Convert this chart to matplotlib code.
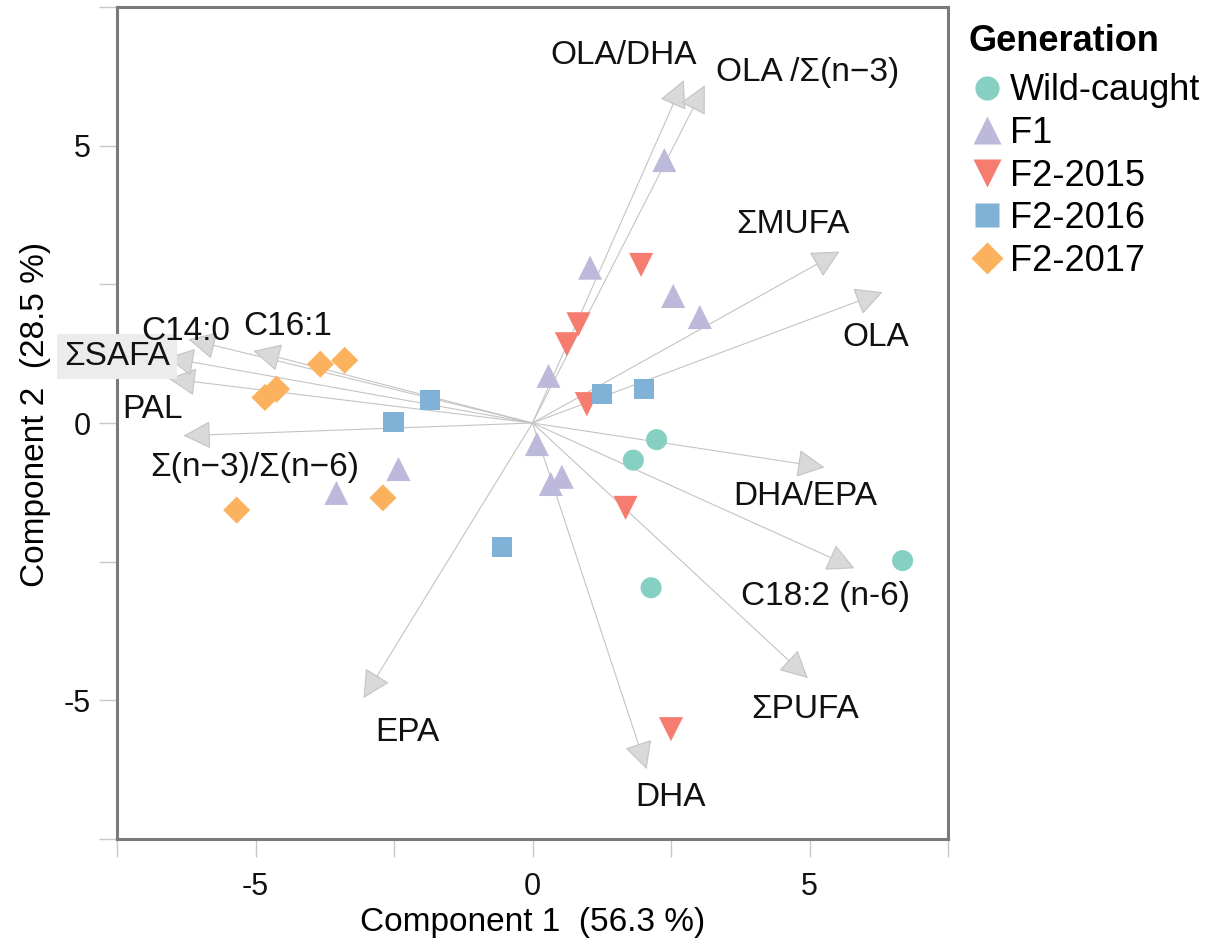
import numpy as np
import matplotlib
matplotlib.use('Agg')
import matplotlib.pyplot as plt
from matplotlib import font_manager
from matplotlib.lines import Line2D

# --- scores per generation (Component 1, Component 2) ---
wild_x  = [2.24, 1.82, 6.68, 2.14]
wild_y  = [-0.30, -0.67, -2.48, -2.97]
f1_x    = [2.38, 1.04, 2.54, 3.02, 0.29, 0.08, 0.53, 0.33, -2.42, -3.54]
f1_y    = [4.74, 2.80, 2.29, 1.91, 0.85, -0.38, -0.97, -1.10, -0.83, -1.26]
f15_x   = [1.96, 0.83, 0.62, 0.98, 1.68, 2.50]
f15_y   = [2.85, 1.78, 1.42, 0.34, -1.53, -5.52]
f16_x   = [1.25, 2.02, -1.85, -2.51, -0.55]
f16_y   = [0.52, 0.61, 0.42, 0.02, -2.23]
f17_x   = [-3.83, -3.39, -4.62, -4.83, -2.70, -5.34]
f17_y   = [1.06, 1.13, 0.61, 0.46, -1.35, -1.57]

groups  = ['Wild-caught', 'F1', 'F2-2015', 'F2-2016', 'F2-2017']

# --- loading vectors (arrow tips) ---
load_names = ['OLA/DHA', 'OLA /\u03a3(n\u22123)', '\u03a3MUFA', 'OLA', 'DHA/EPA',
              'C18:2 (n-6)', '\u03a3PUFA', 'DHA', 'EPA', '\u03a3(n\u22123)/\u03a3(n\u22126)',
              'PAL', '\u03a3SAFA', 'C14:0', 'C16:1']
load_x = [2.73, 3.11, 5.54, 6.32, 5.27, 5.81, 4.97, 2.06, -3.05, -6.30, -6.57, -6.60, -6.21, -5.04]
load_y = [6.18, 6.09, 3.09, 2.36, -0.80, -2.62, -4.60, -6.24, -4.96, -0.23, 0.80, 1.18, 1.51, 1.30]

# where each loading name is written (label centres)
label_pos = [(1.64, 6.62), (4.97, 6.32), (4.70, 3.57), (6.19, 1.54), (4.93, -1.33),
             (5.29, -3.12), (4.93, -5.17), (2.49, -6.75), (-2.26, -5.58), (-5.01, -0.81),
             (-6.86, 0.25), (-7.50, 1.20), (-6.26, 1.65), (-4.42, 1.74)]

tick_pos    = [-7.5, -5, -2.5, 0, 2.5, 5, 7.5]
tick_labels = ['', '-5', '', '0', '', '5', '']

colors  = ['#86d0c3', '#bdb9db', '#f57c6e', '#7fb2d6', '#fbb15e']
markers = ['o', '^', 'v', 's', 'D']
sizes   = [230, 300, 300, 210, 190]

names = {f.name for f in font_manager.fontManager.ttflist}
base_font = 'Liberation Sans' if 'Liberation Sans' in names else 'DejaVu Sans'
plt.rcParams['font.family'] = [base_font, 'DejaVu Sans']

fig = plt.figure(figsize=(12.15, 9.4), dpi=100)
ax = fig.add_axes([117 / 1215, 1 - 839 / 940, 831 / 1215, 832 / 940])
ax.set_xlim(-7.5, 7.5)
ax.set_ylim(-7.5, 7.5)

for s in ax.spines.values():
    s.set_color('#7a7a7a')
    s.set_linewidth(2.2)

# loading arrows
for x, y in zip(load_x, load_y):
    ax.annotate('', xy=(x, y), xytext=(0, 0),
                arrowprops=dict(arrowstyle='-|>,head_length=0.55,head_width=0.28',
                                mutation_scale=32, lw=0.8, ec='#c4c4c4', fc='#d9d9d9',
                                shrinkA=0, shrinkB=0), zorder=1)

for name, (lx, ly) in zip(load_names, label_pos):
    kw = {}
    if name == '\u03a3SAFA':
        kw['bbox'] = dict(boxstyle='square,pad=0.2', fc='#ececec', ec='none')
    ax.text(lx, ly, name, ha='center', va='center', fontsize=24, color='#111111',
            zorder=4, clip_on=False, **kw)

xs = [wild_x, f1_x, f15_x, f16_x, f17_x]
ys = [wild_y, f1_y, f15_y, f16_y, f17_y]
for gx, gy, c, m, sz in zip(xs, ys, colors, markers, sizes):
    ax.scatter(gx, gy, s=sz, c=c, marker=m, edgecolors='none', zorder=3)

ax.set_xticks(tick_pos)
ax.set_xticklabels(tick_labels)
ax.set_yticks(tick_pos)
ax.set_yticklabels(tick_labels)
ax.tick_params(length=13, width=1, color='#c8c8c8', labelsize=22, labelcolor='#111111')
ax.tick_params(axis='x', pad=11)
ax.tick_params(axis='y', pad=6)
ax.xaxis.get_major_ticks()[3].tick1line.set_color('#f0b8a8')
ax.yaxis.get_major_ticks()[3].tick1line.set_color('#f0b8a8')

ax.set_xlabel('Component 1  (56.3 %)', fontsize=24)
ax.set_ylabel('Component 2  (28.5 %)', fontsize=24)
ax.xaxis.set_label_coords(0.5, -0.082)
ax.yaxis.set_label_coords(-0.08, 0.51)

handles = [Line2D([], [], ls='none', marker=m, color=c, markersize=np.sqrt(sz) * 1.15,
                  markeredgecolor='none') for c, m, sz in zip(colors, markers, sizes)]
leg = fig.legend(handles, groups, loc='upper left', bbox_to_anchor=(954 / 1215, 1 - 10 / 940),
                 frameon=False, fontsize=26, title='Generation', alignment='left',
                 handletextpad=0.15, labelspacing=0.21, borderaxespad=0, handlelength=1.0)
leg.get_title().set_fontsize(26)
leg.get_title().set_fontweight('bold')
leg._legend_box.sep = 10

fig.savefig('out.png', dpi=100)
